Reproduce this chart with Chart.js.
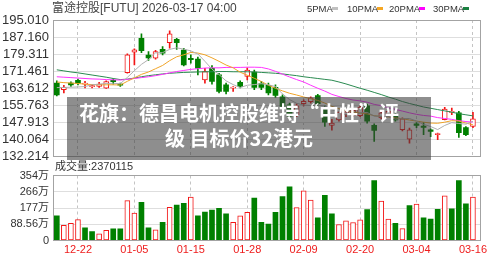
<!DOCTYPE html>
<html><head><meta charset="utf-8">
<script src="https://cdn.jsdelivr.net/npm/chart.js@4.4.1/dist/chart.umd.min.js"></script>
<style>
html,body{margin:0;padding:0;background:#fff;}
#wrap{position:relative;width:500px;height:260px;overflow:hidden;font-family:'Liberation Sans','Noto Sans CJK SC',sans-serif;}
canvas{position:absolute;left:0;}
#pc{top:0;}
#vc{top:160px;}
.t{position:absolute;white-space:nowrap;color:#333;}
.sw{position:absolute;width:6px;height:3px;}
#banner{position:absolute;left:67px;top:97px;width:364px;height:63px;background:rgba(60,60,60,0.58);}
.bl{position:absolute;left:67px;width:344px;text-align:center;color:#fff;font-family:'Noto Sans CJK SC',sans-serif;font-weight:700;font-size:20px;line-height:20px;white-space:nowrap;}
</style></head><body>
<div id="wrap">
<canvas id="pc" width="500" height="172" style="width:500px;height:172px"></canvas>
<canvas id="vc" width="500" height="100" style="width:500px;height:100px"></canvas>
<div class="t" style="left:52px;top:1px;font-size:12px;line-height:14px;color:#444;">富途控股[FUTU] 2026-03-17 04:00</div>
<div class="t" style="left:307px;top:3px;font-size:9.5px;line-height:11px;">5PMA</div><div class="sw" style="left:332px;top:7px;background:#c0c0c0"></div>
<div class="t" style="left:347px;top:3px;font-size:9.5px;line-height:11px;">10PMA</div><div class="sw" style="left:377px;top:7px;background:#f5a623"></div>
<div class="t" style="left:389px;top:3px;font-size:9.5px;line-height:11px;">20PMA</div><div class="sw" style="left:419px;top:7px;background:#ff00ff"></div>
<div class="t" style="left:433px;top:3px;font-size:9.5px;line-height:11px;">30PMA</div><div class="sw" style="left:463px;top:7px;background:#1a8040"></div>
<div class="t" style="left:55px;top:160px;font-size:11px;line-height:13px;">成交量:2370115</div>
<div id="banner"></div>
<div class="bl" style="top:103px;">花旗：德昌电机控股维持“中性”评</div>
<div class="bl" style="top:128px;">级 目标价32港元</div>
</div>
<script>
const dates = ['12-17','12-18','12-19','12-22','12-23','12-24','12-26','12-29','12-30','12-31','01-02','01-05','01-06','01-07','01-08','01-09','01-12','01-13','01-14','01-15','01-16','01-20','01-21','01-22','01-23','01-26','01-27','01-28','01-29','01-30','02-02','02-03','02-04','02-05','02-06','02-09','02-10','02-11','02-12','02-13','02-17','02-18','02-19','02-20','02-23','02-24','02-25','02-26','02-27','03-02','03-03','03-04','03-05','03-06','03-09','03-10','03-11','03-12','03-13','03-16'];
const tickBars = [4,12,20,28,36,44,52,60];
const opens = [166.0,163.0,166.0,167.2,165.5,164.3,164.5,163.7,167.3,165.5, 170.8,180.2,186.6,178.9,177.4,181.5,184.6,186.1,181.2,177.4, 177.0,167.5,172.8,169.8,165.2,163.6,166.3,169.0,171.0,165.8, 165.0,164.0,159.7,156.0,151.5,156.5,157.4,160.2,154.6,146.5, 149.0,151.5,151.0,151.0,155.5,146.6,150.0,151.5,151.5,144.5, 140.2,147.2,146.2,144.5,142.3,149.1,152.5,152.3,145.5,146.0];
const highs = [167.0,165.0,166.6,167.8,166.8,165.3,166.3,167.0,168.0,166.0, 179.5,181.8,188.6,180.5,181.0,182.8,190.0,186.6,182.0,179.0, 177.9,172.8,174.0,170.5,166.0,164.4,167.0,173.0,172.0,166.8, 166.0,165.2,160.6,156.8,156.5,158.3,159.7,160.8,155.5,149.3, 153.0,153.8,154.0,155.5,156.3,147.2,152.8,153.5,152.0,150.0, 145.3,147.8,147.8,145.0,143.0,154.8,154.5,153.0,146.0,152.5];
const lows = [160.1,161.5,164.4,165.2,163.8,163.8,164.0,163.5,165.5,164.5, 170.5,174.4,180.0,176.4,177.0,179.0,182.0,181.5,173.9,175.1, 169.8,166.0,165.5,161.5,161.0,162.1,163.8,167.5,163.0,163.0, 160.6,159.4,154.6,149.8,150.5,155.5,156.7,155.8,146.1,144.3, 148.5,150.5,150.5,150.5,147.5,139.2,149.5,150.8,148.5,144.0, 138.4,145.5,142.3,141.3,140.0,149.0,151.5,141.0,141.8,145.5];
const closes = [160.6,164.0,165.2,166.0,166.0,164.8,165.5,166.7,166.6,165.0, 179.0,181.3,180.9,177.6,180.5,179.7,188.6,184.6,174.4,176.8, 172.8,171.3,166.7,162.1,162.1,164.2,164.4,172.0,164.0,164.0, 161.5,160.3,155.3,150.8,155.5,157.6,159.2,156.5,148.0,147.6, 152.5,152.8,153.5,155.0,148.5,144.2,152.3,153.0,149.0,149.5, 144.5,146.5,145.6,143.8,142.8,154.0,153.0,143.2,142.3,149.5];
const volumes = [135,83,94,114,69,49,36,56,63,63, 217,150,208,69,58,99,181,193,202,237, 135,155,166,175,146,99,135,154,231,99, 90,154,240,293,179,271,220,123,246,145, 87,107,98,112,168,327,215,117,94,65, 190,199,123,117,170,244,173,327,200,237];
const ma5 = [163.9,164.0,164.1,164.2,164.4,165.2,165.5,165.8,165.9,165.7, 168.6,171.7,174.6,176.8,179.9,180.0,181.5,182.2,181.6,180.8, 179.4,176.0,172.4,169.9,167.0,165.3,163.9,165.0,165.3,165.7, 165.2,164.4,161.0,158.4,156.7,155.9,155.7,155.9,155.4,153.8, 152.8,151.5,150.9,152.3,152.5,150.8,150.7,150.6,149.4,149.6, 149.7,148.5,147.0,146.0,144.6,146.5,147.8,147.4,147.1,148.4];
const ma10 = [166.5,166.2,166.0,165.8,165.5,165.3,165.2,165.2,165.2,165.1, 166.8,168.4,170.0,171.1,172.6,174.1,176.3,178.1,179.0,180.1, 179.8,179.0,177.6,176.0,174.3,173.0,171.0,169.6,168.2,166.7, 165.0,163.6,162.4,161.3,160.5,159.6,158.8,158.0,156.8,155.3, 154.2,153.3,152.7,152.2,151.8,151.0,150.6,150.4,150.0,149.6, 149.0,148.5,148.0,147.6,147.5,148.0,148.7,148.5,147.6,146.8];
const ma20 = [168.9,168.7,168.5,168.3,168.1,167.9,167.8,167.6,167.5,167.4, 167.7,168.1,168.5,168.9,169.4,170.0,170.7,171.3,171.8,172.3, 172.6,172.9,173.0,173.0,173.2,173.2,173.2,173.3,173.3,173.2, 172.5,171.4,170.1,168.8,167.6,166.5,165.0,163.6,162.3,160.8, 159.8,158.9,158.2,157.8,157.2,156.2,155.6,154.6,153.9,153.1, 152.3,151.6,151.1,150.8,150.1,149.7,149.3,148.7,148.3,148.0];
const ma30 = [172.1,171.6,171.1,170.7,170.2,169.7,169.2,168.7,168.1,167.6, 167.8,168.3,168.9,169.4,169.8,170.2,170.5,170.7,170.9,171.0, 171.1,171.2,171.2,171.3,171.3,171.2,171.2,171.2,171.1,170.9, 170.7,170.5,170.2,169.8,169.4,168.9,168.5,168.1,167.7,167.3, 166.5,165.6,164.6,163.6,162.7,161.7,160.7,159.6,158.6,157.5, 156.6,155.8,155.0,154.4,153.8,153.2,152.6,151.9,151.4,150.9];
const priceTicks = [132.214,140.064,147.913,155.763,163.612,171.461,179.311,187.160,195.010];
const volTicks = [0,88.56,177.12,265.68,354.24];
const volTickLabels = ['0','88.56万','177万','266万','354万'];

const UP = '#f21616', DOWN = '#008000';
Chart.defaults.font.family = "'Liberation Sans','Noto Sans CJK SC',sans-serif";
const xMin = 0.46, xMax = 61.0;
const isUp = closes.map((c,i)=> c >= opens[i]);
const volUp = closes.map((c,i)=> i===0 ? c > opens[0] : c > closes[i-1]);

const framePlugin = {id:'frame', afterDatasetsDraw(chart){
  const {ctx, chartArea:a} = chart;
  ctx.save(); ctx.strokeStyle = '#a3a3a3'; ctx.lineWidth = 1;
  const x1 = Math.floor(a.left)+0.5, y1 = Math.floor(a.top)+0.5, x2 = Math.floor(a.right)+0.5, y2 = Math.floor(a.bottom)+0.5;
  ctx.strokeRect(x1, y1, x2-x1, y2-y1); ctx.restore();
}};

function xScale(showLabels){
  return {type:'linear', min:xMin, max:xMax, offset:false,
    afterBuildTicks: s => { s.ticks = tickBars.map(v => ({value:v})); },
    afterFit: s => { s.height = showLabels ? 19.5 : 0; },
    ticks:{display:showLabels, autoSkip:false, maxRotation:0, padding:3, color:'#ee1c1c', font:{size:11},
      callback: v => dates[v-1]},
    grid:{offset:false, color:'#c4c4c4', drawTicks:false, borderDash:[3,3]},
    border:{display:false, dash:[3,3]}};
}
const line = (label, arr, color) => ({type:'line', label, data: arr.map((v,i)=>({x:i+1,y:v})), borderColor:color, borderWidth:1, pointRadius:0, tension:0, order:0});

new Chart(document.getElementById('pc'), {
  type:'bar',
  data:{datasets:[
    line('5PMA', ma5, '#b0b0b0'),
    line('10PMA', ma10, '#f0a428'),
    line('20PMA', ma20, '#ff33ff'),
    line('30PMA', ma30, '#2a8a50'),
    {label:'wick', data: lows.map((l,i)=>({x:i+1, y:[l, highs[i]]})), backgroundColor: isUp.map(u=>u?UP:DOWN), borderWidth:0, barThickness:1, grouped:false, order:3},
    {label:'body', data: opens.map((o,i)=>({x:i+1, y:[o, closes[i]]})), backgroundColor: isUp.map(u=>u?'#ffffff':DOWN), borderColor: isUp.map(u=>u?UP:DOWN), borderWidth: isUp.map(u=>u?1:0), borderSkipped:false, barThickness:5, grouped:false, order:2}
  ]},
  options:{responsive:false, animation:false, events:[],
    layout:{padding:{left:0, right:20, top:20, bottom:15.5}},
    plugins:{legend:{display:false}, tooltip:{enabled:false}},
    scales:{
      x: xScale(false),
      y:{type:'linear', position:'left', min:132.214, max:195.010,
        afterBuildTicks: s => { s.ticks = priceTicks.map(v => ({value:v})); },
        afterFit: s => { s.width = 53; },
        ticks:{autoSkip:false, padding:4, color:'#333', font:{size:13}, callback: v => v.toFixed(3)},
        grid:{color:'#dedede', drawTicks:false}, border:{display:false}}
    }},
  plugins:[framePlugin]
});

new Chart(document.getElementById('vc'), {
  type:'bar',
  data:{datasets:[
    {label:'vol', data: volumes.map((v,i)=>({x:i+1, y:v})), backgroundColor: volUp.map(u=>u?'#ffffff':DOWN), borderColor: volUp.map(u=>u?UP:DOWN), borderWidth: volUp.map(u=>u?1:0), borderSkipped:false, barThickness:5, grouped:false}
  ]},
  options:{responsive:false, animation:false, events:[],
    layout:{padding:{left:0, right:20, top:15.5, bottom:0}},
    plugins:{legend:{display:false}, tooltip:{enabled:false}},
    scales:{
      x: xScale(true),
      y:{type:'linear', position:'left', min:0, max:354.24,
        afterBuildTicks: s => { s.ticks = volTicks.map(v => ({value:v})); },
        afterFit: s => { s.width = 53; },
        ticks:{autoSkip:false, padding:4, color:'#333', font:{size:11}, callback: (v,i) => volTickLabels[i]},
        grid:{color:'#dedede', drawTicks:false}, border:{display:false}}
    }},
  plugins:[framePlugin]
});
</script>
</body></html>
